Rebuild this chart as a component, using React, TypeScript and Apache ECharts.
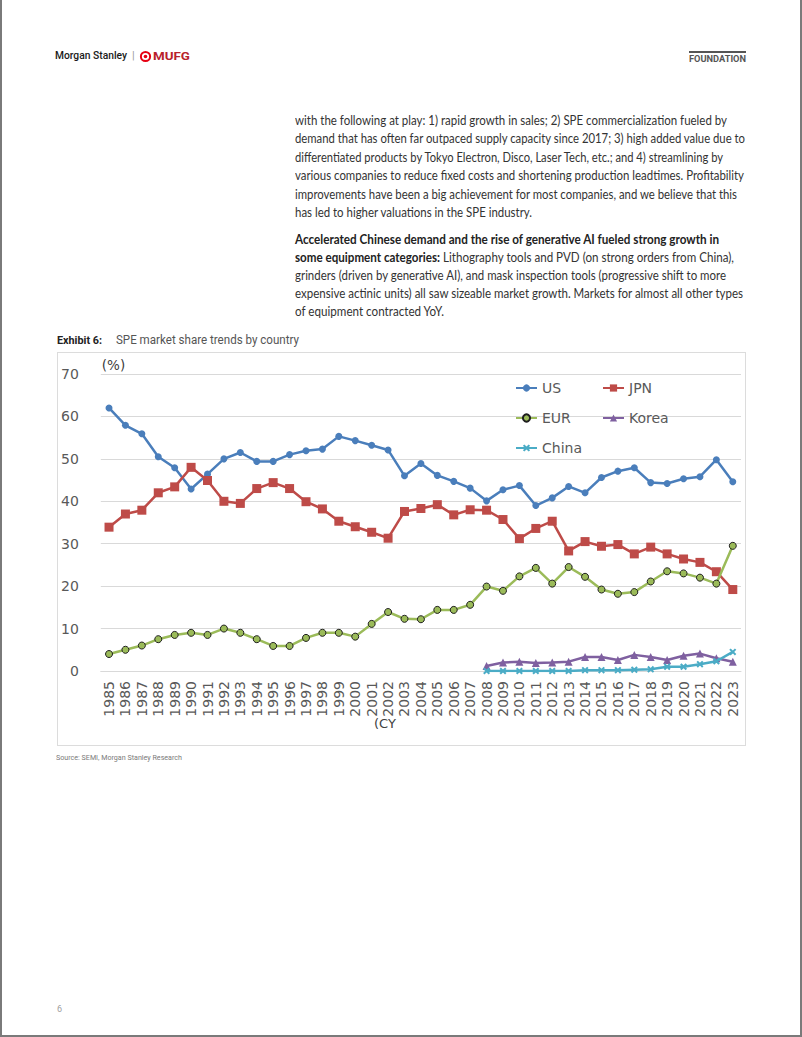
import React, { useEffect, useLayoutEffect, useRef } from "react";
import * as echarts from "echarts";

// ---- Data ----
const years = [
  "1985","1986","1987","1988","1989","1990","1991","1992","1993","1994",
  "1995","1996","1997","1998","1999","2000","2001","2002","2003","2004",
  "2005","2006","2007","2008","2009","2010","2011","2012","2013","2014",
  "2015","2016","2017","2018","2019","2020","2021","2022","2023",
];
const usShare = [
  62.0, 57.9, 55.9, 50.5, 47.9, 42.9, 46.4, 50.0, 51.5, 49.4,
  49.4, 51.0, 51.9, 52.3, 55.3, 54.3, 53.2, 52.1, 46.0, 48.9,
  46.1, 44.7, 43.1, 40.1, 42.7, 43.7, 39.0, 40.8, 43.5, 42.0,
  45.6, 47.1, 47.9, 44.4, 44.2, 45.3, 45.8, 49.8, 44.6,
];
const jpnShare = [
  33.9, 37.0, 37.9, 42.0, 43.4, 48.0, 44.9, 40.0, 39.5, 43.0,
  44.4, 43.0, 39.9, 38.2, 35.3, 34.0, 32.7, 31.3, 37.6, 38.3,
  39.2, 36.8, 38.0, 37.9, 35.7, 31.2, 33.6, 35.3, 28.3, 30.5,
  29.4, 29.8, 27.6, 29.2, 27.6, 26.4, 25.6, 23.4, 19.2,
];
const eurShare = [
  4.0, 5.0, 6.0, 7.5, 8.5, 9.0, 8.5, 10.0, 9.0, 7.5,
  5.9, 5.9, 7.8, 9.0, 9.0, 8.1, 11.1, 13.9, 12.3, 12.2,
  14.4, 14.4, 15.6, 19.9, 18.9, 22.3, 24.3, 20.6, 24.5, 22.2,
  19.2, 18.2, 18.6, 21.1, 23.5, 23.0, 22.0, 20.6, 29.5,
];
const seriesStartYear = "2008"; // Korea and China data begin in 2008
const koreaShare = [1.2, 2.0, 2.2, 1.9, 2.0, 2.2, 3.3, 3.3, 2.6, 3.8, 3.3, 2.6, 3.6, 4.1, 3.0, 2.2];
const chinaShare = [0.0, 0.0, 0.0, 0.0, 0.0, 0.0, 0.2, 0.2, 0.2, 0.3, 0.4, 1.0, 1.0, 1.6, 2.3, 4.5];
const yTicks = { min: 0, max: 70, interval: 10 };

const pad = (vals: number[]) => {
  const start = years.indexOf(seriesStartYear);
  return years.map((_, i) => (i < start ? null : vals[i - start]));
};

const crossPath =
  "path://M0,2 L2,0 L5,3 L8,0 L10,2 L7,5 L10,8 L8,10 L5,7 L2,10 L0,8 L3,5 Z";

const CHART_FONT = "DejaVu Sans, Verdana, sans-serif";

function Chart() {
  const ref = useRef<HTMLDivElement>(null);
  useEffect(() => {
    if (!ref.current) return;
    const chart = echarts.init(ref.current, undefined, { renderer: "svg" });
    const legendText = { fontSize: 14, color: "#595959", fontFamily: CHART_FONT, lineHeight: 16 };
    const legendBase = {
      orient: "vertical",
      top: 27,
      padding: 0,
      itemWidth: 21,
      itemHeight: 9,
      itemGap: 14,
      selectedMode: false,
      textStyle: legendText,
    };
    chart.setOption({
      animation: false,
      backgroundColor: "#ffffff",
      grid: { left: 39, top: 21, right: 4, bottom: 74, containLabel: false },
      legend: [
        { ...legendBase, data: ["US", "EUR", "China"], left: 457 },
        { ...legendBase, data: ["JPN", "Korea"], left: 544 },
      ],
      xAxis: {
        type: "category",
        data: years,
        boundaryGap: true,
        axisLine: { show: true, lineStyle: { color: "#d9d9d9", width: 1 } },
        axisTick: { show: false },
        axisLabel: {
          rotate: 90,
          interval: 0,
          margin: 10,
          fontSize: 14,
          color: "#595959",
          fontFamily: CHART_FONT,
        },
      },
      yAxis: {
        type: "value",
        min: yTicks.min,
        max: yTicks.max,
        interval: yTicks.interval,
        name: "(%)",
        nameLocation: "end",
        nameGap: 2,
        nameTextStyle: {
          align: "left",
          fontSize: 13.5,
          color: "#404040",
          fontFamily: CHART_FONT,
          padding: [0, 0, 0, 1],
        },
        axisLine: { show: false },
        axisTick: { show: false },
        splitLine: { lineStyle: { color: "#d9d9d9", width: 1 } },
        axisLabel: {
          margin: 22,
          fontSize: 14,
          color: "#595959",
          fontFamily: CHART_FONT,
          padding: [0, 0, 3, 0],
        },
      },
      graphic: [
        {
          type: "text",
          left: 316,
          top: 364,
          style: { text: "(CY", fontSize: 13, fill: "#404040", fontFamily: CHART_FONT },
        },
      ],
      series: [
        {
          name: "US",
          type: "line",
          data: usShare,
          symbol: "circle",
          symbolSize: 7,
          itemStyle: { color: "#4A7EBB" },
          lineStyle: { color: "#4A7EBB", width: 2.5 },
          z: 3,
        },
        {
          name: "JPN",
          type: "line",
          data: jpnShare,
          symbol: "rect",
          symbolSize: 9,
          itemStyle: { color: "#BE4B48" },
          lineStyle: { color: "#BE4B48", width: 2.5 },
          z: 4,
        },
        {
          name: "EUR",
          type: "line",
          data: eurShare,
          symbol: "circle",
          symbolSize: 7,
          itemStyle: { color: "#9BBB59", borderColor: "#1f1f1f", borderWidth: 1 },
          lineStyle: { color: "#9BBB59", width: 2.5 },
          z: 5,
        },
        {
          name: "Korea",
          type: "line",
          data: pad(koreaShare),
          symbol: "triangle",
          symbolSize: 8,
          itemStyle: { color: "#7F60A0" },
          lineStyle: { color: "#7F60A0", width: 2.5 },
          z: 6,
        },
        {
          name: "China",
          type: "line",
          data: pad(chinaShare),
          symbol: crossPath,
          symbolSize: 7,
          itemStyle: { color: "#4BACC6" },
          lineStyle: { color: "#4BACC6", width: 2.5 },
          z: 7,
        },
      ],
    });
    return () => chart.dispose();
  }, []);
  return <div ref={ref} style={{ width: 687, height: 392 }} />;
}

const para1 = [
  { t: "with the following at play: 1) rapid growth in sales; 2) SPE commercialization fueled by", w: 432 },
  { t: "demand that has often far outpaced supply capacity since 2017; 3) high added value due to", w: 450 },
  { t: "differentiated products by Tokyo Electron, Disco, Laser Tech, etc.; and 4) streamlining by", w: 428 },
  { t: "various companies to reduce fixed costs and shortening production leadtimes. Profitability", w: 449 },
  { t: "improvements have been a big achievement for most companies, and we believe that this", w: 442 },
  { t: "has led to higher valuations in the SPE industry.", w: 237 },
];
const para2 = [
  { b: "Accelerated Chinese demand and the rise of generative AI fueled strong growth in", t: "", w: 424 },
  { b: "some equipment categories:", t: " Lithography tools and PVD (on strong orders from China),", w: 439 },
  { b: "", t: "grinders (driven by generative AI), and mask inspection tools (progressive shift to more", w: 431 },
  { b: "", t: "expensive actinic units) all saw sizeable market growth. Markets for almost all other types", w: 448 },
  { b: "", t: "of equipment contracted YoY.", w: 149 },
];

const TEXT_FONT = "Lato, 'Open Sans', sans-serif";
const UI_FONT = "Roboto, 'Noto Sans', sans-serif";

export default function App() {
  useLayoutEffect(() => {
    const fit = () => {
      document.querySelectorAll<HTMLElement>("[data-w]").forEach((el) => {
        el.style.transform = "none";
        const w = el.getBoundingClientRect().width;
        const target = Number(el.dataset.w);
        if (w > 0 && target > 0) el.style.transform = `scaleX(${target / w})`;
      });
    };
    fit();
    (document as any).fonts?.ready?.then(fit);
  }, []);

  const abs = (left: number, top: number, extra: React.CSSProperties = {}): React.CSSProperties => ({
    position: "absolute",
    left,
    top,
    whiteSpace: "nowrap",
    transformOrigin: "left center",
    ...extra,
  });

  return (
    <div
      style={{
        position: "absolute",
        left: 0,
        top: 0,
        width: 802,
        height: 1037,
        background: "#ffffff",
        overflow: "hidden",
      }}
    >
      {/* page frame */}
      <div
        style={{
          position: "absolute",
          left: 0,
          top: -3,
          width: 802,
          height: 1040,
          boxSizing: "border-box",
          borderLeft: "2px solid #7a7a7a",
          borderRight: "2px solid #7a7a7a",
          borderBottom: "2px solid #7a7a7a",
        }}
      />

      {/* header */}
      <div
        data-w="72"
        style={abs(55, 49, { fontFamily: UI_FONT, fontSize: 11, fontWeight: 500, color: "#1a1a1a", lineHeight: "14px" })}
      >
        Morgan Stanley
      </div>
      <div style={abs(132, 49, { fontFamily: UI_FONT, fontSize: 11, color: "#9a9a9a", lineHeight: "14px" })}>|</div>
      <svg style={{ position: "absolute", left: 139, top: 50 }} width="13" height="13" viewBox="0 0 13 13">
        <circle cx="6.5" cy="6.5" r="4.6" fill="none" stroke="#e60012" strokeWidth="2" />
        <circle cx="6.5" cy="6.5" r="1.8" fill="#e60012" />
      </svg>
      <div
        data-w="37"
        style={abs(153, 50, { fontFamily: UI_FONT, fontSize: 10.5, fontWeight: 700, color: "#b8222b", lineHeight: "13px" })}
      >
        MUFG
      </div>
      <div style={{ position: "absolute", left: 689, top: 51, width: 57, height: 2, background: "#555555" }} />
      <div
        data-w="57"
        style={abs(689, 54, { fontFamily: UI_FONT, fontSize: 8.5, fontWeight: 700, color: "#555555", lineHeight: "11px" })}
      >
        FOUNDATION
      </div>

      {/* paragraph 1 */}
      {para1.map((l, i) => (
        <div
          key={"p1" + i}
          data-w={l.w}
          style={abs(295, 120 + i * 18.4 - 9, { fontFamily: TEXT_FONT, fontSize: 13, color: "#333333", lineHeight: "18px" })}
        >
          {l.t}
        </div>
      ))}

      {/* paragraph 2 */}
      {para2.map((l, i) => (
        <div
          key={"p2" + i}
          data-w={l.w}
          style={abs(295, 239 + i * 18.1 - 9, { fontFamily: TEXT_FONT, fontSize: 13, color: "#333333", lineHeight: "18px" })}
        >
          {l.b ? <span style={{ fontWeight: 700, color: "#222222" }}>{l.b}</span> : null}
          {l.t}
        </div>
      ))}

      {/* exhibit title */}
      <div
        data-w="45"
        style={abs(57, 332, { fontFamily: UI_FONT, fontSize: 11.5, fontWeight: 700, color: "#222222", lineHeight: "16px" })}
      >
        Exhibit 6:
      </div>
      <div
        data-w="183"
        style={abs(116, 332, { fontFamily: UI_FONT, fontSize: 12.5, fontWeight: 400, color: "#555555", lineHeight: "16px" })}
      >
        SPE market share trends by country
      </div>

      {/* chart box */}
      <div
        style={{
          position: "absolute",
          left: 57,
          top: 352,
          width: 689,
          height: 394,
          boxSizing: "border-box",
          border: "1px solid #dcdcdc",
        }}
      >
        <Chart />
      </div>

      {/* source */}
      <div
        data-w="126"
        style={abs(56, 753, { fontFamily: UI_FONT, fontSize: 7.5, color: "#7a7a7a", lineHeight: "10px" })}
      >
        Source: SEMI, Morgan Stanley Research
      </div>

      {/* page number */}
      <div style={abs(57, 1003, { fontFamily: UI_FONT, fontSize: 9, color: "#a0a0a0", lineHeight: "12px" })}>6</div>
    </div>
  );
}
